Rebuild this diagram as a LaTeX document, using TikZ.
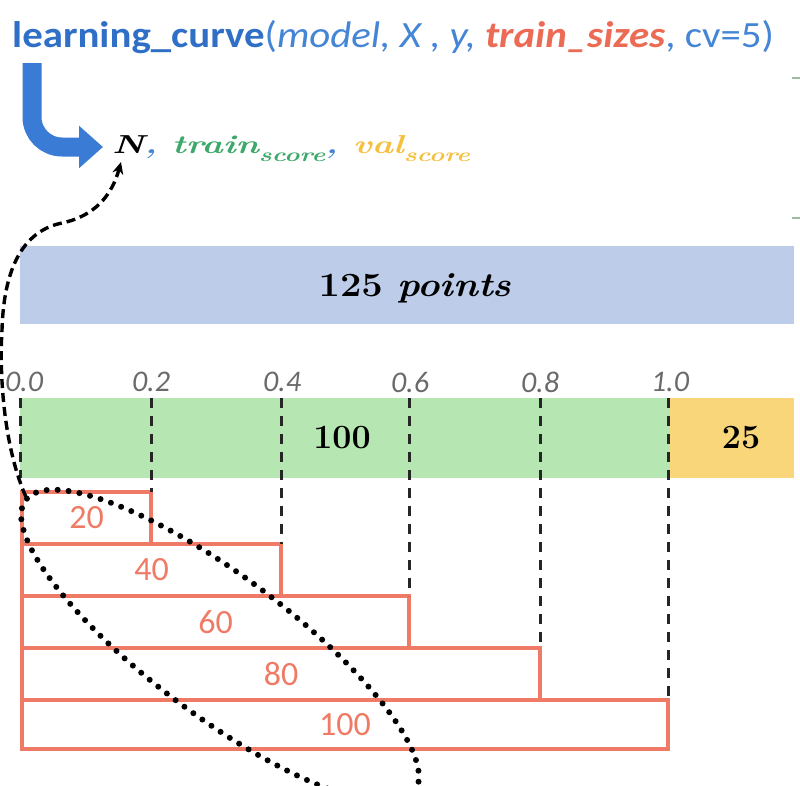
\documentclass[tikz,border=0pt]{standalone}
\usepackage{fontspec}
\usepackage{graphicx}
\usetikzlibrary{arrows.meta}
\newfontfamily\calib{Carlito}
\definecolor{tbd}{HTML}{2F6FC6}
\definecolor{tbl}{HTML}{4585D6}
\definecolor{sal}{HTML}{EC6B55}
\definecolor{redbox}{HTML}{EF7B66}
\definecolor{tgreen}{HTML}{3DA86A}
\definecolor{tyel}{HTML}{F4C03E}
\definecolor{bluefill}{HTML}{BDCCE8}
\definecolor{greenfill}{HTML}{B6E6B1}
\definecolor{yelfill}{HTML}{F8D679}
\definecolor{tickgray}{HTML}{6A6A6A}
\definecolor{arrblue}{HTML}{3A7BD5}
\definecolor{edgegreen}{HTML}{9DBB9D}
\newcommand{\subsc}[1]{\raisebox{-8pt}{\fontsize{19}{19}\selectfont #1}}
\begin{document}
\begin{tikzpicture}[x=1pt,y=-1pt,
  vline/.style={line width=3pt, draw=black!85, dash pattern=on 10pt off 8pt},
  sizebox/.style={draw=redbox, line width=4pt, rectangle, anchor=north west, inner sep=0pt, outer sep=0pt,
    text=redbox, font=\calib\fontsize{34}{34}\selectfont},
  ticklbl/.style={text=tickgray, font=\calib\itshape\fontsize{30}{30}\selectfont, inner sep=0pt},
  band/.style={rectangle, inner sep=0pt, outer sep=0pt, draw=none, anchor=north west},
  bandlbl/.style={font=\fontsize{34}{34}\selectfont\bfseries, inner sep=0pt},
  dotline/.style={line width=6pt, line cap=round, dash pattern=on 0pt off 11pt},
  curvedash/.style={line width=3.4pt, dash pattern=on 9pt off 5pt, -{Stealth[length=12pt,width=11pt]}},
  bigarrow/.style={line width=19pt, draw=arrblue, rounded corners=30pt,
    -{Triangle[length=24pt,width=41pt]}}
]
\useasboundingbox (0,0) rectangle (800,785);
\clip (0,0) rectangle (800,785);

% title
\node[anchor=base west, inner sep=0pt] (title) at (12,47) {\calib\fontsize{37}{37}\selectfont\scalebox{1.105}[1]{%
  {\color{tbd}\bfseries learning\_curve}{\color{tbl}(\itshape model, X , y, }{\color{sal}\bfseries\itshape train\_sizes}{\color{tbl}, cv=5)}}};

% result line
\node[anchor=base west, inner sep=0pt] (result) at (112,153) {\fontsize{26}{26}\selectfont\bfseries\itshape\scalebox{1.38}[1]{%
  {\color{black}N}{\color{tbl},} {\color{tgreen}train\subsc{score}}{\color{tbl},} {\color{tyel}val\subsc{score}}}};

\coordinate (arrstart) at (32,63);
\coordinate (arrend) at (103,147);
\draw[bigarrow] (arrstart) |- (arrend);

% right-edge marks
\coordinate (m1a) at (792,78); \coordinate (m1b) at (800,78);
\coordinate (m2a) at (792,218); \coordinate (m2b) at (800,218);
\draw[edgegreen, line width=1.5pt] (m1a) -- (m1b);
\draw[edgegreen, line width=1.5pt] (m2a) -- (m2b);

% 125 points band
\node[band, fill=bluefill, minimum width=774pt, minimum height=78pt] (all) at (20,246) {};
\node[bandlbl] (alllbl) at (415,288) {\scalebox{1.12}[1]{125 \textit{points}}};

% train / validation bands
\node[band, fill=greenfill, minimum width=650pt, minimum height=80pt] (train) at (20,398) {};
\node[band, fill=yelfill, minimum width=124pt, minimum height=80pt] (val) at (670,398) {};
\node[bandlbl] (trainlbl) at (342,438) {100};
\node[bandlbl] (vallbl) at (741,438) {25};

% tick labels
\node[ticklbl] (t0) at (24,382) {0.0};
\node[ticklbl] (t2) at (151,382) {0.2};
\node[ticklbl] (t4) at (282,382) {0.4};
\node[ticklbl] (t6) at (410,382) {0.6};
\node[ticklbl] (t8) at (540,382) {0.8};
\node[ticklbl] (t10) at (670,382) {1.0};

% train size boxes
\node[sizebox, minimum width=129pt, minimum height=52pt] (b20) at (22,492) {20};
\node[sizebox, minimum width=259pt, minimum height=52pt] (b40) at (22,544) {40};
\node[sizebox, minimum width=387pt, minimum height=52pt] (b60) at (22,596) {60};
\node[sizebox, minimum width=518pt, minimum height=52pt] (b80) at (22,648) {80};
\node[sizebox, minimum width=646pt, minimum height=49pt] (b100) at (22,700) {100};

% dashed verticals
\draw[vline] (train.north west) -- (train.south west);
\draw[vline] (b20.north east |- train.north) -- (b20.north east);
\draw[vline] (b40.north east |- train.north) -- (b40.north east);
\draw[vline] (b60.north east |- train.north) -- (b60.north east);
\draw[vline] (b80.north east |- train.north) -- (b80.north east);
\draw[vline] (b100.north east |- train.north) -- (b100.north east);

% dotted ellipse
\coordinate (ec) at (220,646);
\draw[dotline, rotate around={-36.87:(ec)}] (ec) ellipse [x radius=243pt, y radius=70pt];

% dashed curve to N
\coordinate (cstart) at (26,497);
\coordinate (ntip) at (121,162);
\draw[curvedash] (cstart) .. controls (5,450) and (-1,380) .. (2,330)
  .. controls (4,260) and (28,230) .. (62,223)
  .. controls (95,216) and (112,195) .. (ntip);
\end{tikzpicture}
\end{document}
